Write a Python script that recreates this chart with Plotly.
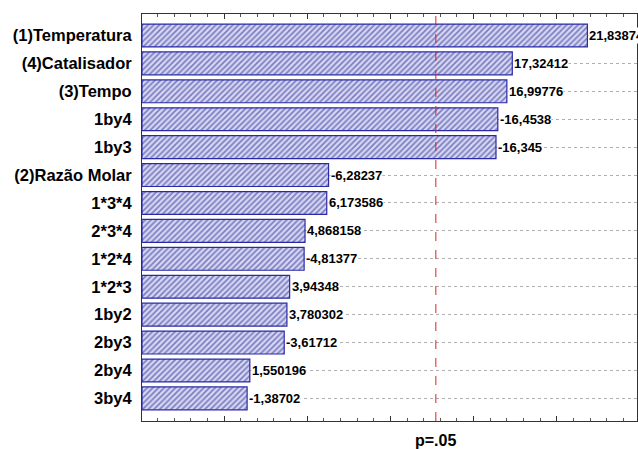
import plotly.graph_objects as go

# Standardized effect estimates (Pareto chart of effects)
effects = ["(1)Temperatura", "(4)Catalisador", "(3)Tempo", "1by4", "1by3",
           "(2)Razão Molar", "1*3*4", "2*3*4", "1*2*4", "1*2*3",
           "1by2", "2by3", "2by4", "3by4"]
estimates = [21.83874, 17.32412, 16.99776, -16.4538, -16.345,
             -6.28237, 6.173586, 4.868158, -4.81377, 3.94348,
             3.780302, -3.61712, 1.550196, -1.38702]
p_limit = 12.73
x_min, x_max = -4.93, 24.82

magnitudes = [abs(v) for v in estimates]
labels = [f"{v:.7g}".replace(".", ",") for v in estimates]

FONT = "Arial, Liberation Sans"

fig = go.Figure()
fig.add_trace(go.Bar(
    y=effects,
    x=[m - x_min for m in magnitudes],
    base=x_min,
    orientation="h",
    width=0.82,
    marker=dict(
        color="#ffffff",
        line=dict(color="#2a2aa8", width=1.2),
        pattern=dict(shape="/", fgcolor="#1f1f8a", bgcolor="#d4d6f2",
                     size=4, solidity=0.4),
    ),
    hoverinfo="skip",
))

for name, m, lab in zip(effects, magnitudes, labels):
    fig.add_annotation(
        x=m, y=name, text=lab, showarrow=False, xanchor="left", xshift=1,
        bgcolor="white", borderpad=0,
        font=dict(family=FONT, size=13, color="black", weight="bold"),
    )

fig.add_shape(type="line", x0=p_limit, x1=p_limit, y0=0, y1=1, yref="paper",
              line=dict(color="#e02020", width=1, dash="dash"))
fig.add_annotation(x=p_limit, y=-0.047, yref="paper", text="p=.05", showarrow=False,
                   yanchor="middle", borderpad=0,
                   font=dict(family=FONT, size=16, color="black", weight="bold"))

fig.update_layout(
    width=638, height=449,
    margin=dict(l=142, r=1, t=14, b=28),
    paper_bgcolor="white", plot_bgcolor="white",
    showlegend=False,
    xaxis=dict(range=[x_min, x_max], showgrid=False, zeroline=False,
               showline=True, linecolor="#333", linewidth=1, mirror="ticks",
               ticks="inside", ticklen=5, tickcolor="#333", dtick=5, tick0=0,
               showticklabels=False,
               minor=dict(ticks="inside", ticklen=3, dtick=1, tickcolor="#555")),
    yaxis=dict(categoryorder="array", categoryarray=effects,
               range=[13.81, -0.77], showline=True, linecolor="#333", linewidth=1,
               mirror=True, showgrid=True, gridcolor="#b0b0b0", griddash="dot",
               gridwidth=1, ticks="", ticklabelstandoff=6,
               tickfont=dict(family=FONT, size=16.5,
                             color="black", weight="bold")),
)

fig.write_html("out.html")
